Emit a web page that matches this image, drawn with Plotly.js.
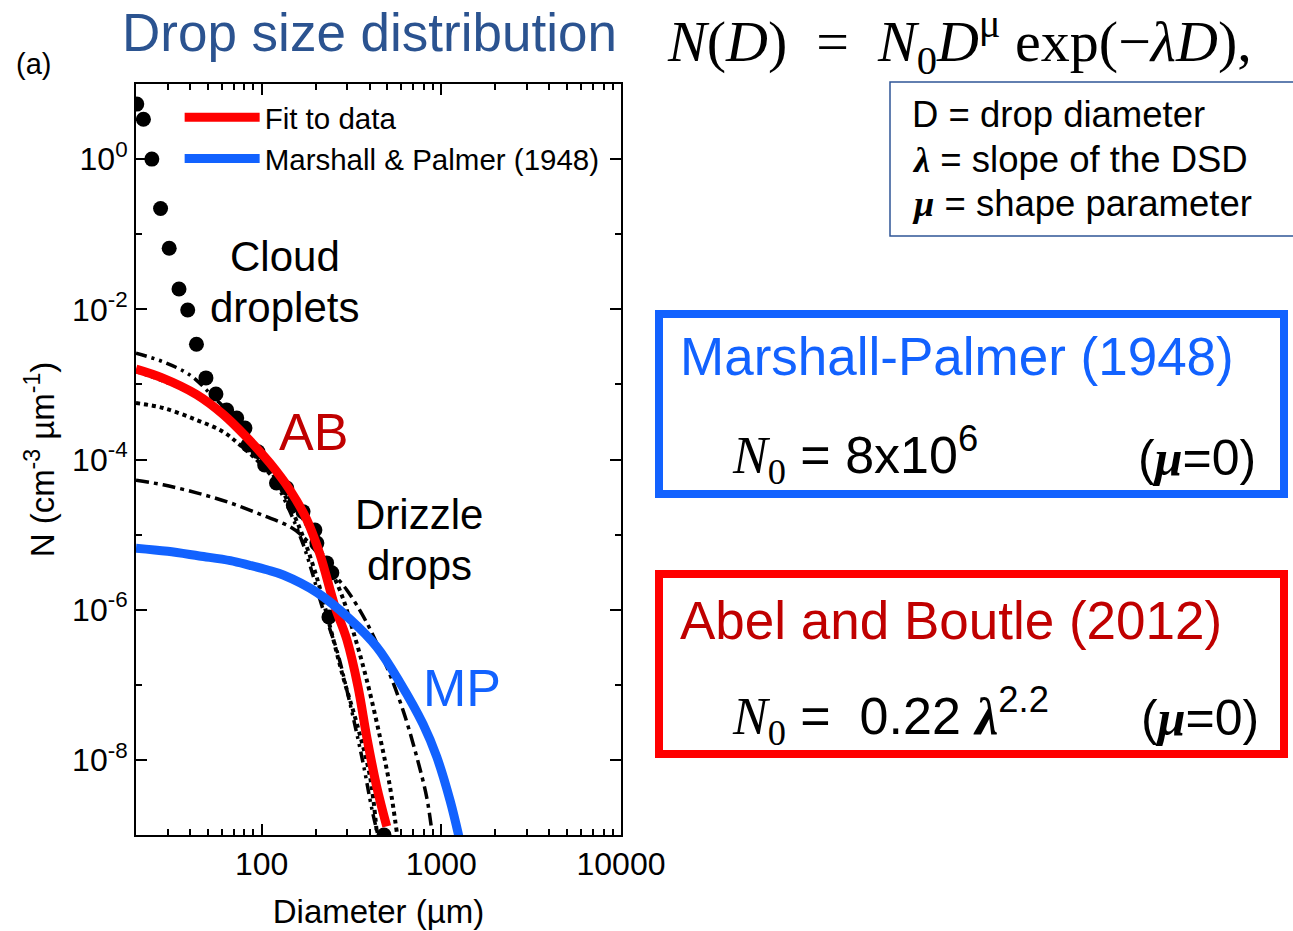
<!DOCTYPE html>
<html>
<head>
<meta charset="utf-8">
<script src="https://cdn.plot.ly/plotly-3.0.1.min.js"></script>
<style>html,body{margin:0;padding:0;background:#fff;}#chart{width:1293px;height:931px;}</style>
</head>
<body>
<div id="chart"></div>
<script>
// ---- data (D in µm, N in cm^-3 µm^-1) ----
const dotsD = [20.2, 22.0, 24.5, 27.4, 30.6, 34.7, 38.8, 43.4, 49.0, 55.7, 63.9, 72.7, 80.8, 84.0, 95.5, 104, 121, 138, 150, 170, 198, 203, 230, 246, 237, 480];
const dotsN = [5.4, 3.4, 1.0, 0.22, 0.065, 0.0186, 0.0098, 0.00343, 0.00122, 7.45e-4, 4.56e-4, 3.57e-4, 2.62e-4, 1.56e-4, 1.27e-4, 8.45e-5, 4.86e-5, 4.17e-5, 2.48e-5, 2.02e-5, 1.15e-5, 7.7e-6, 4.2e-6, 3.1e-6, 8.0e-7, 1.0e-9];

const fitD = [20, 28, 43.5, 61, 83, 111, 144, 178, 211, 256, 298, 344, 385, 437, 497];
const fitN = [1.6e-3, 1.22e-3, 7.3e-4, 4.0e-4, 1.95e-4, 9.0e-5, 3.9e-5, 1.6e-5, 5.5e-6, 1.1e-6, 4.0e-7, 9.4e-8, 2.0e-8, 4.4e-9, 1.3e-9];

const mpD = [20, 30, 45, 67, 86, 107, 132, 203, 310, 437, 589, 791, 943, 1118, 1260];
const mpN = [6.6e-6, 6.0e-6, 5.2e-6, 4.5e-6, 3.9e-6, 3.4e-6, 2.9e-6, 1.7e-6, 7.5e-7, 3.2e-7, 1.07e-7, 3.0e-8, 1.1e-8, 2.9e-9, 9.0e-10];

const dashDot1D = [20, 28.3, 40, 53.6, 70, 95, 130, 170, 220, 262, 310, 367, 412, 444];
const dashDot1N = [2.6e-3, 2.0e-3, 1.33e-3, 6.9e-4, 3.6e-4, 1.3e-4, 3.4e-5, 7.5e-6, 1.0e-6, 2.9e-7, 5.7e-8, 9.1e-9, 2.15e-9, 1.0e-9];

const dot2D = [20, 43.5, 83, 120, 160, 200, 240, 284, 338, 401, 437];
const dot2N = [1.5e-3, 6.9e-4, 1.8e-4, 5.5e-5, 1.35e-5, 3.0e-6, 6.0e-7, 1.28e-7, 3.1e-8, 6.0e-9, 1.1e-9];

const dot1D = [20, 28.3, 43.5, 61, 75.8, 100, 150, 210, 273, 323, 385, 456, 518, 565];
const dot1N = [5.65e-4, 4.85e-4, 3.36e-4, 2.34e-4, 1.56e-4, 8.5e-5, 2.6e-5, 6.5e-6, 1.8e-6, 5.2e-7, 1.15e-7, 2.0e-8, 4.4e-9, 1.1e-9];

const dashDot2D = [20, 28.3, 43.5, 66.7, 102, 144, 170, 203, 240, 298, 385, 497, 612, 730, 829, 884];
const dashDot2N = [5.3e-5, 4.6e-5, 3.6e-5, 2.65e-5, 1.8e-5, 1.27e-5, 9.4e-6, 5.8e-6, 3.4e-6, 1.83e-6, 6.7e-7, 1.74e-7, 4.6e-8, 1.1e-8, 3.2e-9, 1.17e-9];

const xTickVals = [100, 1000, 10000];
const xTickText = ['100', '1000', '10000'];
const xMinorVals = [20, 30, 40, 50, 60, 70, 80, 90, 200, 300, 400, 500, 600, 700, 800, 900, 2000, 3000, 4000, 5000, 6000, 7000, 8000, 9000];
const yTickVals = [1, 1e-2, 1e-4, 1e-6, 1e-8];
const yTickText = ['10<sup>0</sup>', '10<sup>-2</sup>', '10<sup>-4</sup>', '10<sup>-6</sup>', '10<sup>-8</sup>'];
const yMinorVals = [10, 0.1, 1e-3, 1e-5, 1e-7, 1e-9];

const legendNames = ['Fit to data', 'Marshall & Palmer (1948)'];

// ---- styles ----
const SANS = 'Liberation Sans, Arial, sans-serif';
const SERIF = 'Liberation Serif, Times New Roman, serif';
const BLUE = '#1262FF';
const RED = '#FF0000';
const DARKRED = '#C00000';

const traces = [
  {x: dotsD, y: dotsN, mode: 'markers', type: 'scatter', marker: {size: 15, color: '#000'}, showlegend: false, hoverinfo: 'skip'},
  {x: dashDot1D, y: dashDot1N, mode: 'lines', type: 'scatter', line: {color: '#000', width: 3.5, dash: '11px,5px,3px,5px,3px,5px', shape: 'spline'}, showlegend: false},
  {x: dot2D, y: dot2N, mode: 'lines', type: 'scatter', line: {color: '#000', width: 4, dash: '4px,4px', shape: 'spline'}, showlegend: false},
  {x: dot1D, y: dot1N, mode: 'lines', type: 'scatter', line: {color: '#000', width: 4, dash: '4px,4px', shape: 'spline'}, showlegend: false},
  {x: dashDot2D, y: dashDot2N, mode: 'lines', type: 'scatter', line: {color: '#000', width: 3.5, dash: '13px,5px,4px,5px', shape: 'spline'}, showlegend: false},
  {x: fitD, y: fitN, mode: 'lines', type: 'scatter', name: legendNames[0], line: {color: RED, width: 9, shape: 'spline'}},
  {x: mpD, y: mpN, mode: 'lines', type: 'scatter', name: legendNames[1], line: {color: BLUE, width: 9, shape: 'spline'}}
];

function px2x(p) { return (p - 136) / 485; }
function px2y(p) { return (835 - p) / 751; }
const serif = s => '<span style="font-family:' + SERIF + '">' + s + '</span>';
const NB = '\u00A0';

const annotations = [
  {text: '(a)', x: px2x(33), y: px2y(64), font: {size: 29, color: '#000', family: SANS}},
  {text: 'Drop size distribution', x: px2x(120), y: px2y(33), xanchor: 'left', font: {size: 53, color: '#2B5390', family: SANS}},
  {text: '<i>N</i>(<i>D</i>)' + NB + NB + '=' + NB + NB + '<i>N</i><sub>0</sub><i>D</i><sup>μ</sup>' + NB + 'exp(−<i>λD</i>),', x: px2x(665), y: px2y(42), xanchor: 'left', font: {size: 58, color: '#000', family: SERIF}},
  {text: 'D = drop diameter', x: px2x(910), y: px2y(115), xanchor: 'left', font: {size: 36.5, color: '#000', family: SANS}},
  {text: serif('<b><i>λ</i></b>') + ' = slope of the DSD', x: px2x(910), y: px2y(159), xanchor: 'left', font: {size: 36.5, color: '#000', family: SANS}},
  {text: serif('<b><i>μ</i></b>') + ' = shape parameter', x: px2x(910), y: px2y(203), xanchor: 'left', font: {size: 36.5, color: '#000', family: SANS}},
  {text: 'Marshall-Palmer (1948)', x: px2x(678), y: px2y(356), xanchor: 'left', font: {size: 53, color: BLUE, family: SANS}},
  {text: serif('<i>N</i><sub>0</sub>') + ' = 8x10<sup>6</sup>', x: px2x(730), y: px2y(455), xanchor: 'left', font: {size: 52, color: '#000', family: SANS}},
  {text: '(' + serif('<b><i>μ</i></b>') + '=0)', x: px2x(1258), y: px2y(458), xanchor: 'right', font: {size: 50, color: '#000', family: SANS}},
  {text: 'Abel and Boutle (2012)', x: px2x(678), y: px2y(620), xanchor: 'left', font: {size: 53, color: DARKRED, family: SANS}},
  {text: serif('<i>N</i><sub>0</sub>') + ' =  0.22 ' + serif('<b><i>λ</i></b>') + '<sup>2.2</sup>', x: px2x(730), y: px2y(716), xanchor: 'left', font: {size: 52, color: '#000', family: SANS}},
  {text: '(' + serif('<b><i>μ</i></b>') + '=0)', x: px2x(1261), y: px2y(718), xanchor: 'right', font: {size: 50, color: '#000', family: SANS}},
  {text: 'Cloud', x: px2x(285), y: px2y(256), font: {size: 42, color: '#000', family: SANS}},
  {text: 'droplets', x: px2x(284), y: px2y(307), font: {size: 42, color: '#000', family: SANS}},
  {text: 'AB', x: px2x(313), y: px2y(432), font: {size: 52, color: DARKRED, family: SANS}},
  {text: 'Drizzle', x: px2x(419), y: px2y(514), font: {size: 42, color: '#000', family: SANS}},
  {text: 'drops', x: px2x(419), y: px2y(565), font: {size: 42, color: '#000', family: SANS}},
  {text: 'MP', x: px2x(462), y: px2y(688), font: {size: 52, color: BLUE, family: SANS}}
].map(a => Object.assign({xref: 'paper', yref: 'paper', showarrow: false, xanchor: 'center', yanchor: 'middle'}, a));

const shapes = [
  {type: 'rect', xref: 'paper', yref: 'paper', x0: px2x(890), x1: px2x(1310), y0: px2y(236), y1: px2y(82), line: {color: '#2F5597', width: 1.5}},
  {type: 'rect', xref: 'paper', yref: 'paper', x0: px2x(659), x1: px2x(1284), y0: px2y(494), y1: px2y(314), line: {color: BLUE, width: 8}},
  {type: 'rect', xref: 'paper', yref: 'paper', x0: px2x(659), x1: px2x(1284), y0: px2y(754), y1: px2y(574), line: {color: RED, width: 8}}
];

const layout = {
  width: 1293, height: 931,
  margin: {l: 136, r: 672, t: 84, b: 96},
  paper_bgcolor: '#fff', plot_bgcolor: '#fff',
  font: {family: SANS, color: '#000'},
  showlegend: true,
  legend: {x: 0.09, y: 0.99, xanchor: 'left', yanchor: 'top', bgcolor: 'rgba(0,0,0,0)', font: {size: 29.5, family: SANS}, itemwidth: 75, tracegroupgap: 0},
  xaxis: {
    type: 'log', range: [Math.log10(20), 4], showgrid: false, zeroline: false,
    showline: true, linecolor: '#000', linewidth: 2, mirror: 'allticks',
    ticks: 'inside', ticklen: 11, tickwidth: 1.5, tickcolor: '#000',
    tickmode: 'array', tickvals: xTickVals, ticktext: xTickText,
    tickfont: {size: 32, family: SANS},
    minor: {tickmode: 'array', tickvals: xMinorVals, ticks: 'inside', ticklen: 6, tickwidth: 1.5, tickcolor: '#000', showgrid: false},
    title: {text: 'Diameter (µm)', font: {size: 33, family: SANS}, standoff: 18}
  },
  yaxis: {
    type: 'log', range: [-9, 1], showgrid: false, zeroline: false,
    showline: true, linecolor: '#000', linewidth: 2, mirror: 'allticks',
    ticks: 'inside', ticklen: 11, tickwidth: 1.5, tickcolor: '#000',
    tickmode: 'array', tickvals: yTickVals, ticktext: yTickText,
    tickfont: {size: 32, family: SANS},
    minor: {tickmode: 'array', tickvals: yMinorVals, ticks: 'inside', ticklen: 6, tickwidth: 1.5, tickcolor: '#000', showgrid: false},
    title: {text: 'N (cm<sup>-3</sup> µm<sup>-1</sup>)', font: {size: 33, family: SANS}, standoff: 8}
  },
  annotations: annotations,
  shapes: shapes
};

Plotly.newPlot('chart', traces, layout, {displayModeBar: false});
</script>
</body>
</html>
